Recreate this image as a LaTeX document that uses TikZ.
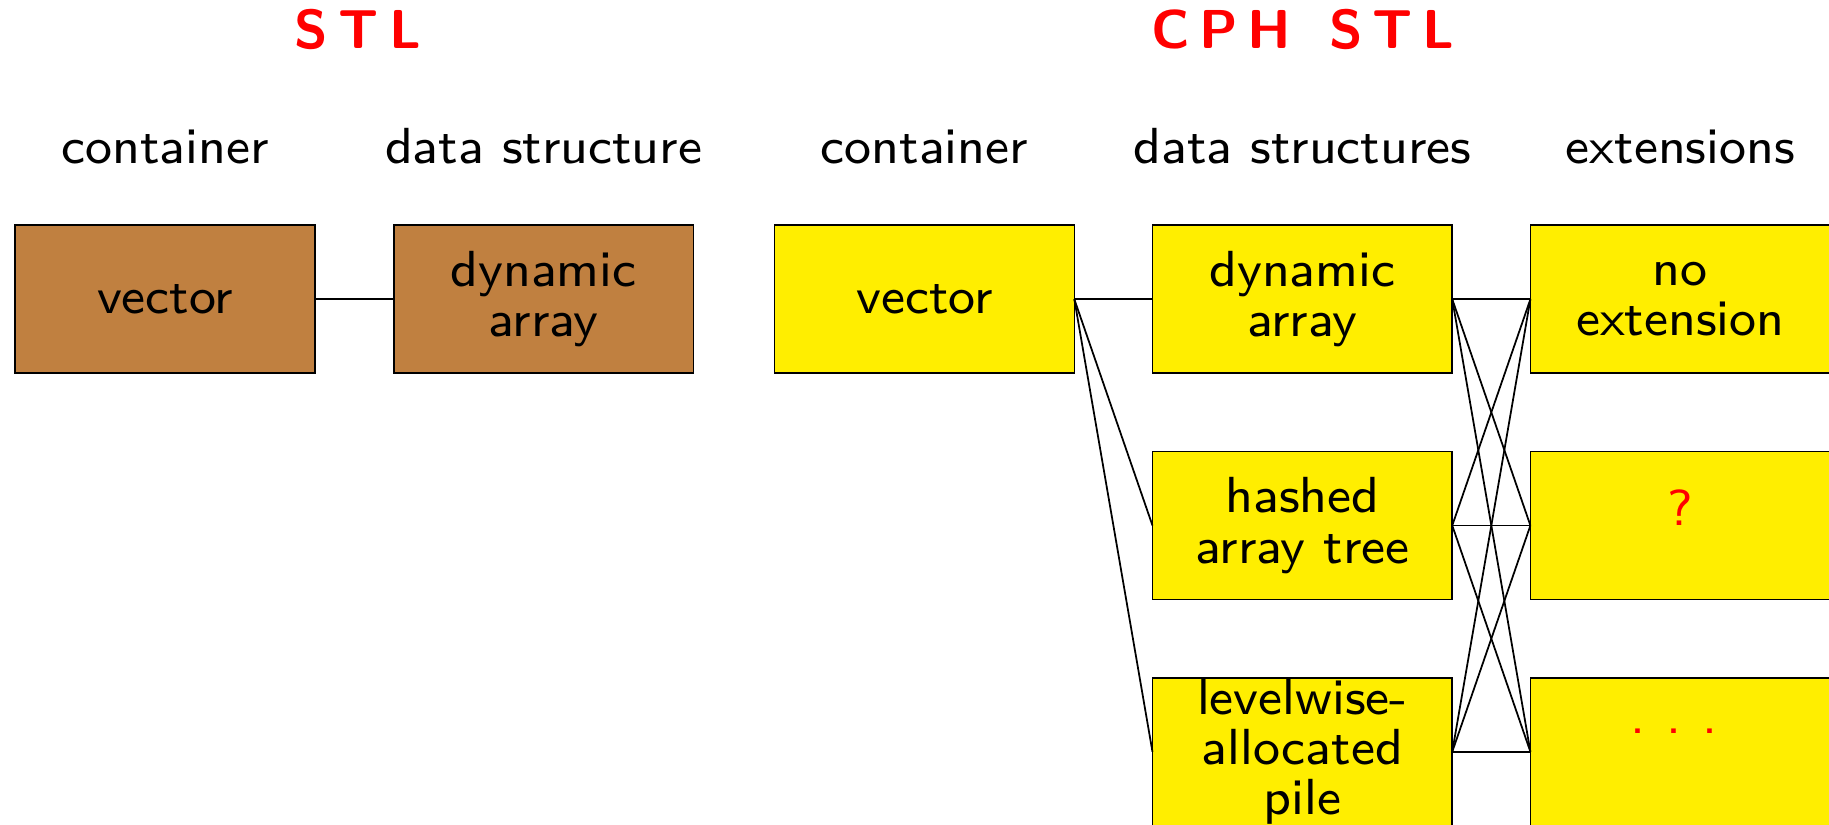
\documentclass[tikz,border=0pt]{standalone}
\usepackage{fontspec}
\setsansfont{lmsans8-regular.otf}[BoldFont=lmsans10-bold.otf]
\definecolor{brownbox}{RGB}{192,128,64}
\definecolor{yellowbox}{RGB}{255,238,0}
\definecolor{titlered}{RGB}{255,0,0}
\newcommand{\ttl}[1]{\fontsize{47}{47}\selectfont\sffamily\bfseries #1}
\begin{document}
\begin{tikzpicture}[x=1pt,y=-1pt,
  box/.style={draw=black,line width=1.4pt,minimum width=257pt,minimum height=127pt,inner sep=0pt,outer sep=0pt},
  bbox/.style={box,fill=brownbox},
  ybox/.style={box,fill=yellowbox},
  lbl/.style={align=center,inner sep=0pt,font=\fontsize{43.5}{43}\selectfont\sffamily},
  head/.style={anchor=base,inner sep=0pt,font=\fontsize{43.5}{43}\selectfont\sffamily},
  title/.style={anchor=base,inner sep=0pt,text=titlered},
  link/.style={draw=black,line width=1.5pt}]
\useasboundingbox (0,0) rectangle (1568,707);
% titles
\node[title] (t1) at (307,41.4) {\ttl{S\kern9pt T\kern9pt L}};
\node[title] (t2) at (1117,41.4) {\ttl{C\kern8pt P\kern8pt H\kern8pt\ \kern8pt S\kern8pt T\kern8pt L}};
% headers
\node[head] (h1) at (141.5,140) {container};
\node[head] (h2) at (466,140) {data structure};
\node[head] (h3) at (792.5,140) {container};
\node[head] (h4) at (1116.5,140) {data structures};
\node[head] (h5) at (1440.5,140) {extensions};
% STL boxes
\node[bbox] (sv) at (141.5,256.5) {};
\node[bbox] (sd) at (466,256.5) {};
\node[lbl] (svt) at (sv) {vector};
\node[lbl] (sdt) at (sd) {dynamic\\array};
% CPH STL boxes
\node[ybox] (cv) at (792.5,256.5) {};
\node[ybox] (ds1) at (1116.5,256.5) {};
\node[ybox] (ds2) at (1116.5,450.5) {};
\node[ybox] (ds3) at (1116.5,644.5) {};
\node[ybox] (ex1) at (1440.5,256.5) {};
\node[ybox] (ex2) at (1440.5,450.5) {};
\node[ybox] (ex3) at (1440.5,644.5) {};
\node[lbl] (cvt) at (cv) {vector};
\node[lbl] (ds1t) at (ds1) {dynamic\\array};
\node[lbl] (ds2t) at (ds2) {hashed\\array tree};
\node[lbl] (ds3t) at (ds3) {levelwise-\\allocated\\pile};
\node[lbl] (ex1t) at (ex1) {no\\extension};
\node[head,text=titlered] (ex2t) at (1440.5,450.5) {?};
\node[head,text=titlered] (ex3t) at (1435,628.5) {.\kern18pt.\kern18pt.};
% connectors
\draw[link] (sv.east) -- (sd.west);
\draw[link] (cv.east) -- (ds1.west);
\draw[link] (cv.east) -- (ds2.west);
\draw[link] (cv.east) -- (ds3.west);
\foreach \i in {1,2,3}{
  \foreach \j in {1,2,3}{
    \draw[link] (ds\i.east) -- (ex\j.west);
  }
}
\end{tikzpicture}
\end{document}
